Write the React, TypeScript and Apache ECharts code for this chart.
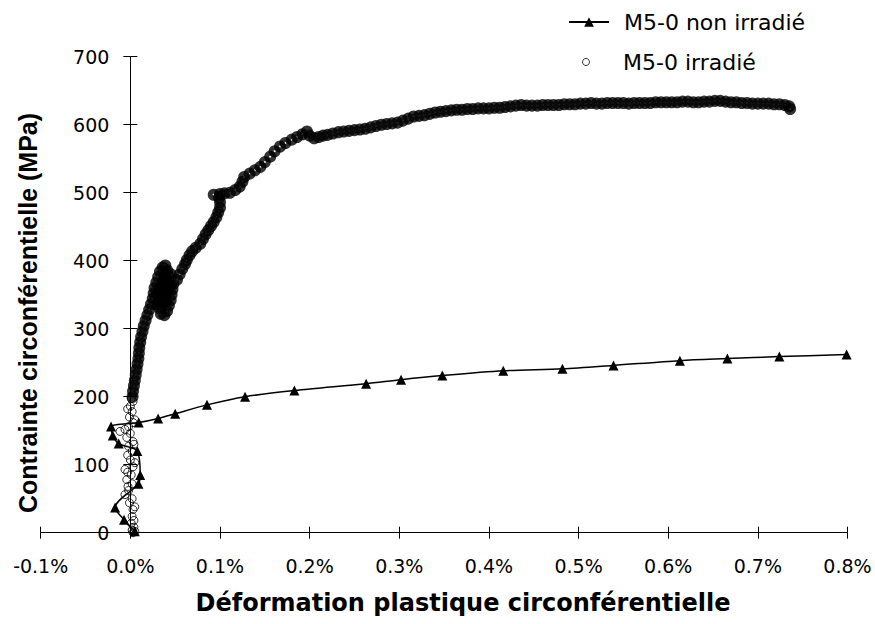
import React, { useEffect, useRef } from 'react';
import * as echarts from 'echarts';

// Strain in %, stress in MPa
const nonIrradie: [number, number][] = [
  [0.005, 2], [-0.007, 19], [-0.017, 37], [0.009, 72], [0.011, 85], [0.0078, 120],
  [-0.013, 131], [-0.0196, 143], [-0.0215, 156], [0.0094, 162], [0.031, 168], [0.05, 175],
  [0.0855, 188], [0.128, 200], [0.183, 209], [0.263, 219], [0.302, 225], [0.348, 231],
  [0.416, 238], [0.482, 241], [0.539, 246], [0.613, 253], [0.666, 256], [0.724, 259], [0.799, 262],
];

const irradieLow: [number, number][] = [
  [0.003, 0], [0.005, 2], [0.002, 4], [0.004, 8], [0.001, 14], [0.004, 18], [0.002, 24],
  [0.003, 34], [0.005, 38], [-0.001, 44], [0.002, 50], [-0.006, 56], [-0.002, 62],
  [-0.0026, 68], [0.002, 72], [-0.004, 78], [0.001, 85], [-0.003, 89], [-0.006, 93],
  [0.003, 97], [0.005, 103], [0.0, 107], [-0.003, 114], [0.002, 120], [-0.002, 127],
  [0.004, 130], [0.003, 134], [-0.004, 140], [-0.0115, 149], [0.0, 146], [-0.006, 152],
  [-0.002, 156], [0.003, 162], [0.005, 166], [-0.001, 170], [0.002, 178], [-0.003, 182],
  [0.0, 186], [0.003, 193], [0.001, 197],
];

const irradieBand: [number, number][] = [
  [0.0025, 200], [0.003, 208], [0.004, 216], [0.005, 224], [0.006, 232], [0.007, 240],
  [0.008, 248], [0.009, 256], [0.0095, 264], [0.01, 272], [0.011, 280], [0.012, 288],
  [0.0135, 296], [0.015, 304], [0.017, 312], [0.019, 320], [0.021, 328], [0.023, 336],
  [0.025, 344], [0.026, 352], [0.027, 360], [0.029, 368], [0.031, 376], [0.033, 384],
  [0.036, 390], [0.039, 393],
  [0.041, 386], [0.042, 378], [0.04, 370], [0.038, 362], [0.036, 354], [0.034, 346],
  [0.033, 338], [0.033, 330], [0.034, 322], [0.038, 320], [0.041, 326], [0.043, 334],
  [0.045, 342], [0.046, 350], [0.047, 358], [0.048, 366], [0.044, 362], [0.04, 352],
  [0.037, 372], [0.037, 340], [0.04, 340], [0.042, 356], [0.035, 365], [0.038, 380],
  [0.043, 370], [0.045, 380], [0.03, 350], [0.029, 336], [0.032, 358],
  [0.052, 372], [0.055, 380], [0.058, 388], [0.061, 395], [0.063, 401], [0.066, 408],
  [0.069, 414], [0.073, 419], [0.078, 425], [0.081, 432], [0.084, 439], [0.087, 445],
  [0.09, 451], [0.093, 457], [0.096, 464], [0.098, 471], [0.1, 478], [0.1, 486],
  [0.099, 493], [0.093, 497], [0.1, 498], [0.105, 499], [0.111, 500], [0.117, 504],
  [0.122, 509], [0.125, 516], [0.127, 523], [0.133, 528], [0.139, 533], [0.145, 538],
  [0.15, 545], [0.156, 553], [0.161, 561], [0.167, 568], [0.173, 573], [0.18, 578],
  [0.186, 582], [0.192, 586], [0.197, 590], [0.2, 584], [0.205, 580], [0.21, 582],
  [0.215, 584], [0.22, 585], [0.226, 587], [0.232, 589], [0.238, 590], [0.244, 591],
  [0.25, 592], [0.256, 593], [0.262, 594], [0.268, 596], [0.274, 598], [0.28, 600],
  [0.286, 601], [0.292, 602], [0.298, 603], [0.304, 606], [0.31, 609], [0.316, 612],
  [0.322, 613], [0.328, 614], [0.334, 616], [0.34, 618], [0.346, 619], [0.352, 620],
  [0.358, 621], [0.364, 622], [0.37, 622], [0.376, 623], [0.382, 623], [0.388, 624],
  [0.394, 624], [0.4, 624], [0.406, 625], [0.412, 625], [0.418, 626], [0.424, 627],
  [0.43, 628], [0.436, 629], [0.442, 628], [0.448, 628], [0.454, 628], [0.46, 629],
  [0.466, 629], [0.472, 629], [0.478, 629], [0.484, 630], [0.49, 630], [0.496, 630],
  [0.502, 631], [0.508, 631], [0.514, 632], [0.52, 631], [0.526, 631], [0.532, 632],
  [0.538, 632], [0.544, 632], [0.55, 632], [0.556, 631], [0.562, 632], [0.568, 632],
  [0.574, 632], [0.58, 632], [0.586, 633], [0.592, 633], [0.598, 633], [0.604, 633],
  [0.61, 633], [0.616, 634], [0.622, 634], [0.628, 633], [0.634, 633], [0.64, 634],
  [0.646, 634], [0.652, 635], [0.658, 635], [0.664, 634], [0.67, 633], [0.676, 633],
  [0.682, 632], [0.688, 632], [0.694, 631], [0.7, 631], [0.706, 631], [0.712, 631],
  [0.718, 630], [0.724, 630], [0.73, 629], [0.735, 627], [0.736, 623],
];

const NAME_NON = 'M5-0 non irradié';
const NAME_IRR = 'M5-0 irradié';
const X_TITLE = 'Déformation plastique circonférentielle';
const Y_TITLE = 'Contrainte circonférentielle (MPa)';

const X_MIN = -0.1;
const X_MAX = 0.8;
const GRID_LEFT = 40.7;
const GRID_RIGHT = 27.5;
const CHART_W = 875;

export default function App() {
  const ref = useRef<HTMLDivElement>(null);
  useEffect(() => {
    const chart = echarts.init(ref.current!, null, { renderer: 'svg' });
    const plotW = CHART_W - GRID_LEFT - GRID_RIGHT;
    // y axis crosses the x axis at strain 0: shift it from the grid's left edge
    const yShift = -((0 - X_MIN) / (X_MAX - X_MIN)) * plotW;
    const tickFont = { fontFamily: 'DejaVu Sans', fontSize: 19, color: '#000' };
    const xBase = { type: 'value', min: X_MIN, max: X_MAX, interval: 0.1, splitLine: { show: false } };
    const yBase = { type: 'value', min: 0, max: 700, interval: 100, splitLine: { show: false } };
    const option: any = {
      animation: false,
      backgroundColor: '#fff',
      grid: { left: GRID_LEFT, right: GRID_RIGHT, top: 56.7, bottom: 91.3, outerBoundsMode: 'none', containLabel: false },
      xAxis: [
        {
          ...xBase, position: 'bottom',
          axisLine: { show: true, onZero: false, lineStyle: { color: '#000', width: 1 } },
          axisTick: { show: true, inside: false, length: 6, lineStyle: { color: '#000' } },
          axisLabel: { ...tickFont, margin: 24, formatter: (v: number) => v.toFixed(1) + '%' },
        },
        {
          ...xBase, position: 'bottom',
          axisLine: { show: false, onZero: false },
          axisTick: { show: true, inside: true, length: 6, lineStyle: { color: '#000' } },
          axisLabel: { show: false },
        },
      ],
      yAxis: [
        {
          ...yBase, position: 'left', offset: yShift,
          axisLine: { show: true, onZero: false, lineStyle: { color: '#000', width: 1 } },
          axisTick: { show: true, inside: false, length: 7, lineStyle: { color: '#000' } },
          axisLabel: { ...tickFont, margin: 21 },
        },
        {
          ...yBase, position: 'left', offset: yShift,
          axisLine: { show: false, onZero: false },
          axisTick: { show: true, inside: true, length: 7, lineStyle: { color: '#000' } },
          axisLabel: { show: false },
        },
      ],
      legend: [
        {
          orient: 'vertical', left: 568, top: 11, padding: 0, itemWidth: 40, itemHeight: 12,
          textStyle: { fontFamily: 'DejaVu Sans', fontSize: 22, color: '#000', padding: [0, 0, 0, 10] },
          data: [{ name: NAME_NON }],
          selectedMode: false,
        },
        {
          orient: 'vertical', left: 582, top: 51, padding: 0, itemWidth: 64, itemHeight: 7,
          textStyle: { fontFamily: 'DejaVu Sans', fontSize: 22, color: '#000' },
          data: [{ name: NAME_IRR, icon: 'circle', itemStyle: { color: 'rgba(0,0,0,0)', borderColor: '#000', borderWidth: 1 } }],
          selectedMode: false,
        },
      ],
      graphic: [
        {
          type: 'text', x: 463, y: 603,
          style: { text: X_TITLE, font: 'bold 24px "DejaVu Sans"', fill: '#000', textAlign: 'center', textVerticalAlign: 'middle' },
        },
        {
          type: 'text', x: 28, y: 313, rotation: Math.PI / 2,
          style: { text: Y_TITLE, font: 'bold 25px "Liberation Sans"', fill: '#000', textAlign: 'center', textVerticalAlign: 'middle' },
        },
      ],
      series: [
        {
          name: NAME_NON, type: 'line', xAxisIndex: 0, yAxisIndex: 0,
          data: nonIrradie, smooth: 0.3, symbol: 'triangle', symbolSize: 10, showAllSymbol: true,
          itemStyle: { color: '#000' }, lineStyle: { color: '#000', width: 1.5 },
          emphasis: { disabled: true },
        },
        {
          name: NAME_IRR, type: 'scatter', xAxisIndex: 0, yAxisIndex: 0,
          symbol: 'circle', symbolSize: 7,
          itemStyle: { color: 'rgba(0,0,0,0)', borderColor: '#000', borderWidth: 5 },
          data: [
            ...irradieLow.map((p) => ({ value: p, symbolSize: 8, itemStyle: { borderWidth: 1 } })),
            ...irradieBand,
          ],
          emphasis: { disabled: true },
        },
      ],
    };
    chart.setOption(option);
    return () => chart.dispose();
  }, []);
  return (
    <div
      ref={ref}
      style={{ position: 'fixed', left: 0, top: 0, width: 875, height: 624, background: '#fff' }}
    />
  );
}
